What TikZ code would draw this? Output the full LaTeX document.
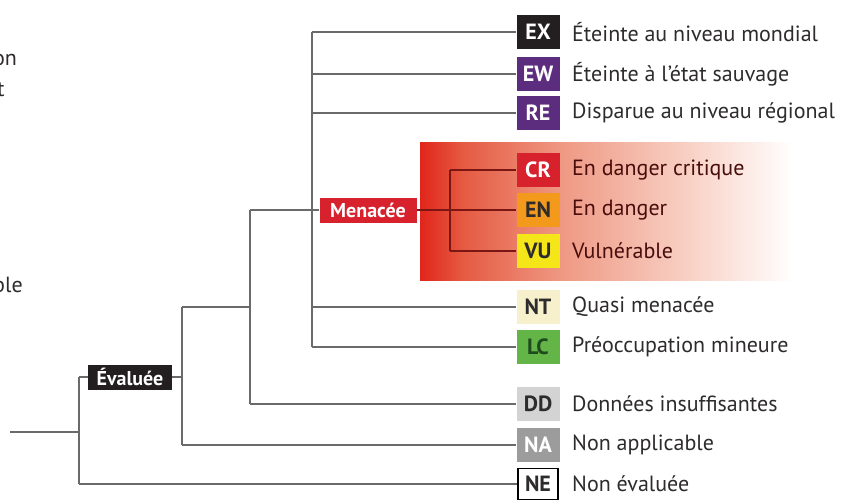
\documentclass[tikz,border=0pt]{standalone}
\usepackage{fontspec}
\setmainfont{PT Sans}
\definecolor{cEX}{HTML}{231F20}
\definecolor{cEW}{HTML}{5C2D7E}
\definecolor{cCR}{HTML}{D7222E}
\definecolor{cEN}{HTML}{F39A1C}
\definecolor{cVU}{HTML}{F5E61A}
\definecolor{cNT}{HTML}{F7F0CC}
\definecolor{cLC}{HTML}{62B546}
\definecolor{cLCt}{HTML}{1E4A1E}
\definecolor{cDD}{HTML}{D3D3D3}
\definecolor{cNA}{HTML}{9C9C9C}
\definecolor{cline}{HTML}{6A6A6A}
\definecolor{cdark}{HTML}{7A1614}
\definecolor{ctext}{HTML}{2E2B2C}
\definecolor{gA}{HTML}{E1251B}
\definecolor{gB}{HTML}{E55A42}
\definecolor{gC}{HTML}{EF9A85}
\definecolor{gD}{HTML}{F8D2C6}
\pgfdeclarehorizontalshading{redfade}{100bp}{color(0bp)=(gA); color(25bp)=(gA); color(30bp)=(gB); color(42bp)=(gC); color(57bp)=(gD); color(69bp)=(white); color(100bp)=(white)}
\tikzset{
  badge/.style={minimum width=43pt, minimum height=34pt, inner sep=0pt,
    font=\fontsize{22}{24}\selectfont\bfseries},
  lab/.style={anchor=west, inner sep=0pt, text=ctext, font=\fontsize{22}{24}\selectfont},
  conn/.style={draw=cline, line width=1.3pt},
  inner/.style={draw=cdark, line width=1.3pt},
  tag/.style={inner sep=0pt, minimum height=25pt, text=white, font=\fontsize{20}{22}\selectfont\bfseries}
}
\begin{document}
\begin{tikzpicture}[x=1pt,y=-1pt]
\useasboundingbox (0,0) rectangle (844,501);
% gradient panel
\shade[shading=redfade] (420,142) rectangle (844,280);
% left cut-off text fragments (cut at the edge, as in the reference)
\node[lab] (fa) at (-7,60) {on};
\node[lab] (fb) at (-3,90) {t};
\node[lab] (fc) at (-7,285) {ble};
% badges
\node[badge, fill=cEX, text=white] (EX) at (538,32) {EX};
\node[badge, fill=cEW, text=white] (EW) at (538,74) {EW};
\node[badge, fill=cEW, text=white] (RE) at (538,113) {RE};
\node[badge, fill=cCR, text=white] (CR) at (538,170) {CR};
\node[badge, fill=cEN, text=ctext] (EN) at (538,210) {EN};
\node[badge, fill=cVU, text=ctext] (VU) at (538,251) {VU};
\node[badge, fill=cNT, text=ctext] (NT) at (538,307) {NT};
\node[badge, fill=cLC, text=cLCt] (LC) at (538,347) {LC};
\node[badge, fill=cDD, text=ctext] (DD) at (538,404) {DD};
\node[badge, fill=cNA, text=white] (NA) at (538,445) {NA};
\node[badge, draw=black, line width=1.2pt, fill=white, text=ctext, minimum width=40pt, minimum height=31pt] (NE) at (538,484) {NE};
% labels
\node[lab] (EXl) at (572,32) {Éteinte au niveau mondial};
\node[lab] (EWl) at (572,74) {Éteinte à l’état sauvage};
\node[lab] (REl) at (572,113) {Disparue au niveau régional};
\node[lab, text=cdark!60!black] (CRl) at (572,170) {En danger critique};
\node[lab, text=cdark!60!black] (ENl) at (572,210) {En danger};
\node[lab, text=cdark!60!black] (VUl) at (572,251) {Vulnérable};
\node[lab] (NTl) at (572,307) {Quasi menacée};
\node[lab] (LCl) at (572,347) {Préoccupation mineure};
\node[lab] (DDl) at (572,404) {Données insuffisantes};
\node[lab] (NAl) at (572,445) {Non applicable};
\node[lab] (NEl) at (572,484) {Non évaluée};
% group tags
\node[tag, fill=cCR, minimum width=97pt] (MEN) at (368,210) {Menacée};
\node[tag, fill=cEX, minimum width=84pt] (EVA) at (130,377) {Évaluée};
% junction columns
\coordinate (v1) at (312,0);
\coordinate (v2) at (250,0);
\coordinate (v3) at (182,0);
\coordinate (v4) at (79,0);
\coordinate (vi) at (450,0);
\coordinate (root) at (10,432);
% main column
\draw[conn] (EX.west -| v1) -- (LC.west -| v1);
\foreach \n in {EX,EW,RE,NT,LC} \draw[conn] (\n.west -| v1) -- (\n.west);
% Menacee subtree
\draw[conn] (MEN.west -| v2) -- (MEN.west);
\draw[conn] (MEN.west -| v2) -- (DD.west -| v2);
\draw[conn] (DD.west -| v2) -- (DD.west);
\draw[inner] (MEN.east) -- (EN.west);
\draw[inner] (CR.west -| vi) -- (VU.west -| vi);
\draw[inner] (CR.west -| vi) -- (CR.west);
\draw[inner] (VU.west -| vi) -- (VU.west);
% v3 column
\draw[conn] (NT.west -| v3) -- (NT.west -| v2);
\draw[conn] (NT.west -| v3) -- (NA.west -| v3);
\draw[conn] (NA.west -| v3) -- (NA.west);
\draw[conn] (EVA.east) -- (EVA.east -| v3);
% root column
\draw[conn] (EVA.west -| v4) -- (EVA.west);
\draw[conn] (EVA.west -| v4) -- (NE.west -| v4);
\draw[conn] (NE.west -| v4) -- (NE.west);
\draw[conn] (root) -- (root -| v4);
\end{tikzpicture}
\end{document}
